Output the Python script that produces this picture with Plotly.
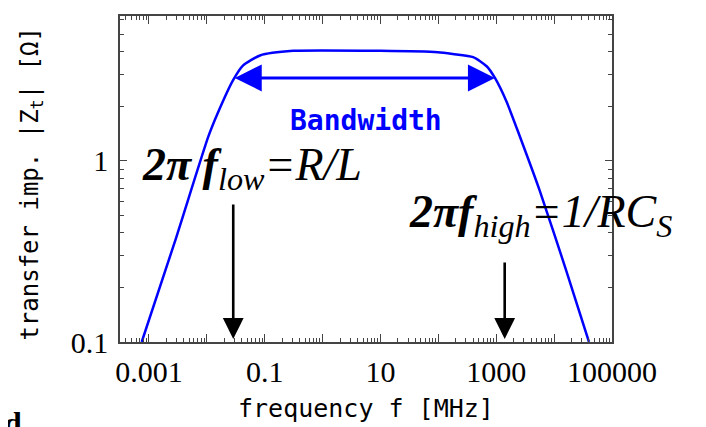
import math
import plotly.graph_objects as go

# curve: frequency [MHz] and |Z_t| [Ohm]
freq = [0.00075, 0.0029, 0.0106, 0.0156, 0.0286, 0.042, 0.083, 0.31, 10,
        98, 178, 400, 690, 955, 1510, 2570, 5600, 16400, 40000]
zt = [0.1, 0.37, 1.36, 1.85, 2.80, 3.36, 3.82, 4.05, 4.05,
      3.98, 3.89, 3.74, 3.32, 2.86, 2.12, 1.36, 0.69, 0.245, 0.1]

# corner frequencies and arrow levels
f_low = 0.0286
f_high = 1400
bw_left = 0.0286
bw_right = 950
bw_level = 2.87
arrow_top_low = 0.586
arrow_top_high = 0.28
arrow_tip = 0.104

x_ticks = [0.001, 0.01, 0.1, 1, 10, 100, 1000, 10000, 100000]
x_labels = ["0.001", "", "0.1", "", "10", "", "1000", "", "100000"]
y_ticks = [0.1, 1]
y_labels = ["0.1", "1"]

serif = "Liberation Serif, Times New Roman, serif"
mono = "DejaVu Sans Mono, monospace"

fig = go.Figure()

fig.add_trace(
    go.Scatter(
        x=freq,
        y=zt,
        mode='lines',
        line=dict(color='#0000ff', width=2.5, shape='spline', smoothing=0.6),
        showlegend=False
    )
)

# black arrows pointing at the corner frequencies
for f, top in [(f_low, arrow_top_low), (f_high, arrow_top_high)]:
    fig.add_annotation(
        x=math.log10(f), y=math.log10(arrow_tip),
        ax=math.log10(f), ay=math.log10(top),
        xref="x", yref="y", axref="x", ayref="y",
        text="", showarrow=True,
        arrowhead=2, arrowsize=1.6, arrowwidth=2.6, arrowcolor="black"
    )

# blue double arrow for the bandwidth
fig.add_annotation(
    x=math.log10(bw_right), y=math.log10(bw_level),
    ax=math.log10(bw_left), ay=math.log10(bw_level),
    xref="x", yref="y", axref="x", ayref="y",
    text="", showarrow=True, arrowside="end+start",
    arrowhead=2, arrowsize=1.8, arrowwidth=3, arrowcolor="#0000ff"
)

fig.add_annotation(
    x=0.501, y=0.735, xref="paper", yref="paper",
    text="<b>Bandwidth</b>", showarrow=False,
    font=dict(family=mono, size=28, color="#0000ff")
)

fig.add_annotation(
    x=0.041, y=0.535, xref="paper", yref="paper", xanchor="left",
    text="<b><i>2π f</i></b><sub><i>low</i></sub><i>=R/L</i>", showarrow=False,
    font=dict(family=serif, size=46, color="black")
)

fig.add_annotation(
    x=0.583, y=0.39, xref="paper", yref="paper", xanchor="left",
    text="<b><i>2πf</i></b><sub><i>high</i></sub><i>=1/RC</i><sub><i>S</i></sub>",
    showarrow=False,
    font=dict(family=serif, size=46, color="black")
)

# axis titles
fig.add_annotation(
    x=-0.215, y=0.485, xref="paper", yref="paper", textangle=-90,
    text="transfer imp. |Z<sub>t</sub>| [Ω]", showarrow=False,
    font=dict(family=mono, size=24, color="black")
)
fig.add_annotation(
    x=0.5, y=-0.255, xref="paper", yref="paper",
    text="frequency f [MHz]", showarrow=False,
    font=dict(family=mono, size=25, color="black")
)

# cut-off panel letter in the corner
fig.add_annotation(
    x=-0.24, y=-0.186, xref="paper", yref="paper", yanchor="top",
    text="<b>d</b>", showarrow=False,
    font=dict(family=serif, size=32, color="black")
)

axis_common = dict(
    type='log',
    automargin=False,
    showgrid=False,
    zeroline=False,
    showline=True,
    linecolor='#444',
    linewidth=1.5,
    mirror='ticks',
    ticks='inside',
    tickcolor='#444',
    tickwidth=1,
    tickfont=dict(family=serif, size=30, color='black'),
    minor=dict(ticks='inside', ticklen=4, dtick='D1', tickcolor='#444', tickwidth=1)
)

fig.update_xaxes(
    **axis_common,
    range=[-3.5, 5],
    tickvals=x_ticks,
    ticktext=x_labels,
    ticklen=8,
    ticklabelstandoff=2
)
fig.update_yaxes(
    **axis_common,
    range=[-1, 0.8],
    tickvals=y_ticks,
    ticktext=y_labels,
    ticklen=7,
    ticklabelstandoff=4
)

# the page body adds an 8 px margin, so the figure is 8 px smaller each way
fig.update_layout(
    width=698,
    height=419,
    margin=dict(l=112, r=94, t=8, b=85),
    plot_bgcolor='white',
    paper_bgcolor='white'
)

fig.write_html("out.html")
